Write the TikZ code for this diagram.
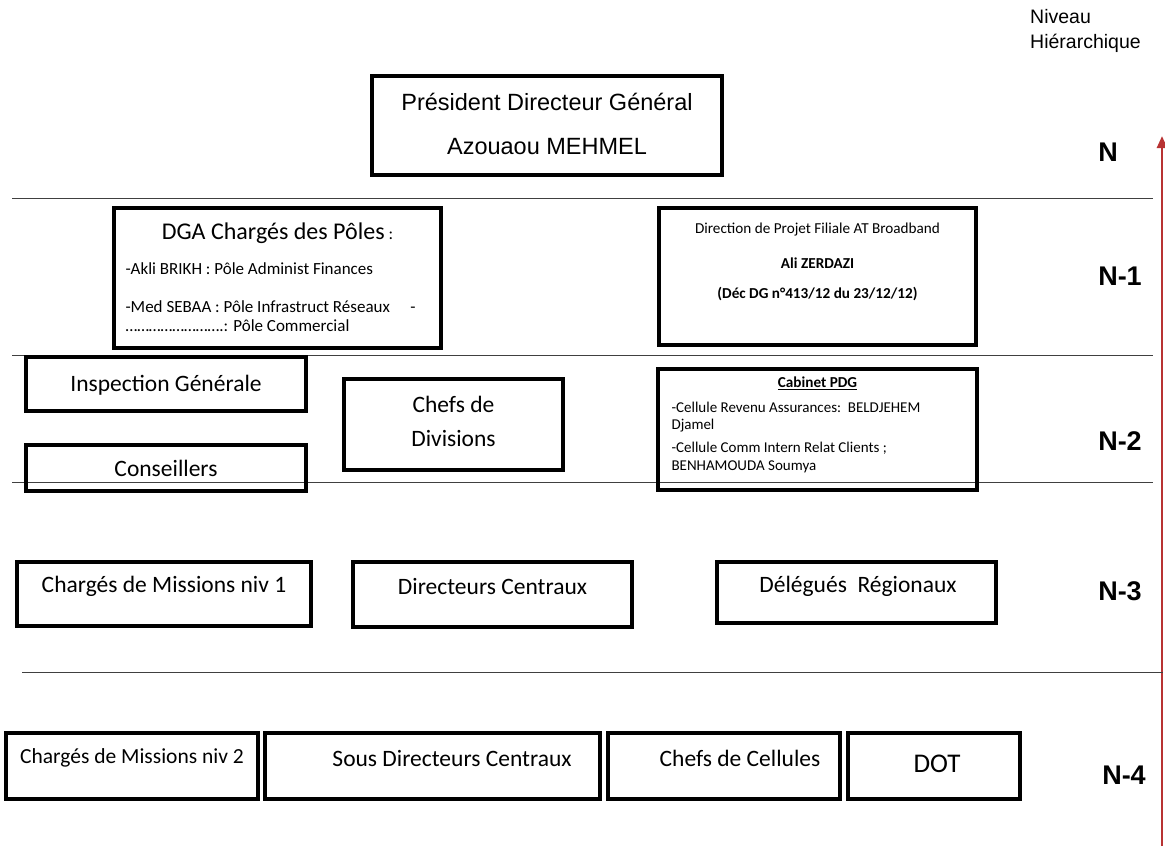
\documentclass[tikz,border=0pt]{standalone}
\usepackage{fontspec}
\setmainfont{Carlito}
\newfontfamily\arialf{Liberation Sans}
\usetikzlibrary{arrows.meta}
\tikzset{
  box/.style={draw=black, line width=3.3pt, rectangle, inner sep=0pt},
  sep/.style={draw=black!75, line width=1pt},
  lvl/.style={font=\arialf\bfseries\fontsize{27}{30}\selectfont, anchor=center},
  txt/.style={font=\fontsize{23.5}{27}\selectfont, anchor=center},
  small/.style={font=\fontsize{15}{17}\selectfont, anchor=west},
}
\begin{document}
\begin{tikzpicture}[x=1pt,y=-1pt]
\useasboundingbox (0,0) rectangle (1165,847);
% header
\node[font=\arialf\fontsize{19.5}{25}\selectfont, anchor=north west, align=left, inner sep=0pt] (hdr) at (1030,9) {Niveau\\Hiérarchique};
% red arrow
\coordinate (arB) at (1162,846);
\coordinate (arT) at (1162,136);
\draw[draw=red!65!black!80, line width=2.6pt, -{Triangle[length=12pt,width=10pt]}] (arB) -- (arT);
% separators
\coordinate (s1a) at (12,198); \coordinate (s1b) at (1153,198);
\coordinate (s2a) at (12,355); \coordinate (s2b) at (1153,355);
\coordinate (s3a) at (12,482); \coordinate (s3b) at (1153,482);
\coordinate (s4a) at (22,672); \coordinate (s4b) at (1163,672);
\draw[sep] (s1a) -- (s1b);
\draw[sep] (s2a) -- (s2b);
\draw[sep] (s3a) -- (s3b);
\draw[sep] (s4a) -- (s4b);
% level labels
\node[lvl] (lN) at (1108,152) {N};
\node[lvl] (lN1) at (1120,276) {N-1};
\node[lvl] (lN2) at (1120,441) {N-2};
\node[lvl] (lN3) at (1120,591) {N-3};
\node[lvl] (lN4) at (1124,775) {N-4};
% PDG
\node[box, minimum width=350pt, minimum height=99pt] (pdg) at (547,125.5) {};
\node[font=\arialf\fontsize{23.5}{26}\selectfont] (pdgA) at (547,102) {Président Directeur Général};
\node[font=\arialf\fontsize{23.5}{26}\selectfont] (pdgB) at (547,147) {Azouaou MEHMEL};
% DGA
\node[box, minimum width=327pt, minimum height=140pt] (dga) at (277.5,278) {};
\node[font=\fontsize{24}{28}\selectfont] (dgaT) at (277.5,233) {DGA Chargés des Pôles\,{\fontsize{17}{18}\selectfont :}};
\node[font=\fontsize{17}{20}\selectfont, anchor=west] (dga1) at (122,269) {-Akli BRIKH : Pôle Administ Finances};
\node[font=\fontsize{17}{20}\selectfont, anchor=west] (dga2) at (122,307) {-Med SEBAA : Pôle Infrastruct Réseaux\hspace{1.2em}-};
\node[font=\fontsize{17}{20}\selectfont, anchor=west] (dga3) at (122,326) {…………………….: Pôle Commercial};
% Direction projet
\node[box, minimum width=317pt, minimum height=137pt] (dp) at (817.5,276.5) {};
\node[font=\fontsize{15.2}{17}\selectfont] (dp1) at (817.5,230) {Direction de Projet Filiale AT Broadband};
\node[font=\bfseries\fontsize{15.2}{17}\selectfont] (dp2) at (817.5,263) {Ali ZERDAZI};
\node[font=\bfseries\fontsize{15.2}{17}\selectfont] (dp3) at (817.5,294) {(Déc DG n°413/12 du 23/12/12)};
% N-2
\node[box, minimum width=280pt, minimum height=54pt] (insp) at (166,384) {};
\node[txt] (inspT) at (166,385) {Inspection Générale};
\node[box, minimum width=280pt, minimum height=46pt] (cons) at (166,468) {};
\node[txt] (consT) at (166,468) {Conseillers};
\node[box, minimum width=219pt, minimum height=91pt] (chd) at (453.5,424.5) {};
\node[txt] (chdA) at (453.5,404) {Chefs de};
\node[txt] (chdB) at (453.5,438) {Divisions};
\node[box, minimum width=319pt, minimum height=121pt] (cab) at (817.5,429.5) {};
\node[font=\bfseries\fontsize{15.2}{17}\selectfont] (cab0) at (817.5,383) {\underline{Cabinet PDG}};
\node[small] (cab1) at (668,407) {-Cellule Revenu Assurances:\ \ BELDJEHEM};
\node[small] (cab2) at (668,426) {Djamel};
\node[small] (cab3) at (668,448) {-Cellule Comm Intern Relat Clients ;};
\node[small] (cab4) at (668,467) {BENHAMOUDA Soumya};
% N-3
\node[box, minimum width=294pt, minimum height=64pt] (cm1) at (164,594) {};
\node[txt] (cm1T) at (164,586) {Chargés de Missions niv 1};
\node[box, minimum width=279pt, minimum height=65pt] (dc) at (492.5,594.5) {};
\node[txt] (dcT) at (492.5,586) {Directeurs Centraux};
\node[box, minimum width=279pt, minimum height=61pt] (dr) at (856.5,592.5) {};
\node[txt] (drT) at (858,586) {Délégués\ \ Régionaux};
% N-4
\node[box, minimum width=252pt, minimum height=66pt] (cm2) at (132,766) {};
\node[font=\fontsize{21.5}{25}\selectfont] (cm2T) at (132,758) {Chargés de Missions niv 2};
\node[box, minimum width=335pt, minimum height=66pt] (sdc) at (432.5,766) {};
\node[txt] (sdcT) at (452,758) {Sous Directeurs Centraux};
\node[box, minimum width=232pt, minimum height=66pt] (cc) at (724,766) {};
\node[txt] (ccT) at (740,758) {Chefs de Cellules};
\node[box, minimum width=172pt, minimum height=66pt] (dot) at (934,766) {};
\node[font=\fontsize{27}{30}\selectfont] (dotT) at (937,764) {DOT};
\end{tikzpicture}
\end{document}
